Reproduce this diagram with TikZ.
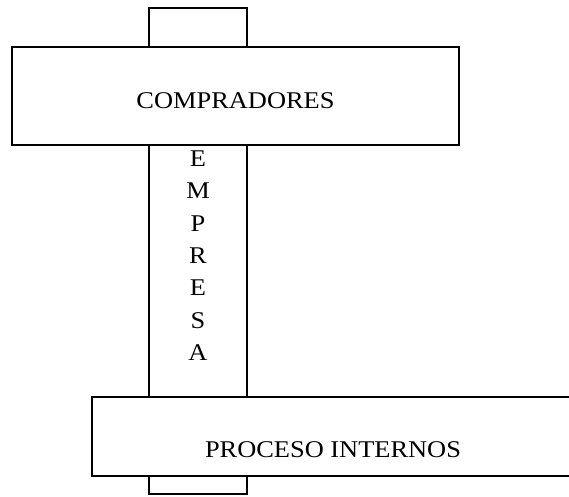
\documentclass[tikz,border=0pt]{standalone}
\usepackage{fontspec}
\setmainfont{Liberation Serif}[FakeStretch=1.1]
\begin{document}
\begin{tikzpicture}[x=1pt,y=-1pt,
  boxshape/.style={draw=black,fill=white,line width=1.5pt,inner sep=0pt,outer sep=0pt,rectangle},
  labeltext/.style={font=\fontsize{24}{28}\selectfont,inner sep=0pt,anchor=base,text=black},
  lettertext/.style={font=\fontsize{24}{28}\selectfont,inner sep=0pt,anchor=base,text=black}]
\useasboundingbox (0,0) rectangle (569,496);
\clip (0,0) rectangle (569,496);
\fill[white] (0,0) rectangle (569,496);
% vertical bar (empresa)
\node[boxshape,minimum width=98pt,minimum height=486pt] (bar) at (198,251) {};
% top box
\node[boxshape,minimum width=447pt,minimum height=98pt] (top) at (235.5,96) {};
\node[labeltext] (comp) at (235.5,108) {COMPRADORES};
% bottom box (extends past right edge)
\node[boxshape,minimum width=520pt,minimum height=79pt] (bottom) at (352,436.5) {};
\node[labeltext] (proc) at (333,457) {PROCESO INTERNOS};
% vertical word
\foreach \l/\yy [count=\i] in {E/166,M/198,P/231,R/263,E/295,S/328,A/360}
  \node[lettertext] (e\i) at (198,\yy) {\l};
\end{tikzpicture}
\end{document}
